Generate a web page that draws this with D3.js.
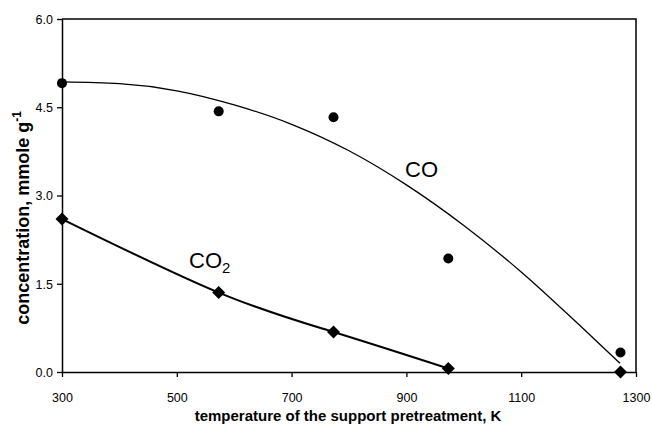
<!DOCTYPE html>
<html>
<head>
<meta charset="utf-8">
<script src="https://cdn.jsdelivr.net/npm/d3@7"></script>
<style>
  html, body { margin: 0; padding: 0; background: #fff; }
  svg { display: block; font-family: Arial, "Liberation Sans", sans-serif; }
</style>
</head>
<body>
<svg id="chart" width="652" height="429"></svg>
<script>
// ---- data ----
const xTicks = [300, 500, 700, 900, 1100, 1300];
const yTicks = [0, 1.5, 3.0, 4.5, 6.0];
const temps = [300, 573, 773, 973, 1273];
const coValues = [4.91, 4.43, 4.33, 1.93, 0.33];
const co2Values = [2.60, 1.35, 0.68, 0.06, 0.00];
// CO trend curve
const coFitTemps = [300, 400, 500, 600, 700, 800, 900, 1000, 1100, 1200, 1272];
const coFitValues = [4.93, 4.90, 4.78, 4.54, 4.21, 3.76, 3.18, 2.49, 1.70, 0.81, 0.15];
// CO2 smoothed line passes through the first four points
const co2LineCount = 4;

const svg = d3.select("#chart");
const x = d3.scaleLinear().domain([300, 1300]).range([62, 636]);
const y = d3.scaleLinear().domain([0, 6]).range([372, 19]);

// frame (top and right)
svg.append("path")
  .attr("d", `M${x(300)},${y(6)}H${x(1300)}V${y(0)}`)
  .attr("fill", "none").attr("stroke", "#000").attr("stroke-width", 1.5);

// axes
const xAxis = svg.append("g").attr("transform", `translate(0,${y(0)})`)
  .call(d3.axisBottom(x).tickValues(xTicks).tickSize(5).tickSizeOuter(0).tickFormat(d3.format("d")));
const yAxis = svg.append("g").attr("transform", `translate(${x(300)},0)`)
  .call(d3.axisLeft(y).tickValues(yTicks).tickSize(5).tickSizeOuter(0).tickFormat(d3.format(".1f")));
[xAxis, yAxis].forEach(g => {
  g.select(".domain").attr("stroke", "#000").attr("stroke-width", 1.5);
  g.selectAll(".tick line").attr("stroke", "#000").attr("stroke-width", 1.3);
  g.selectAll(".tick text").attr("fill", "#000")
    .style("font-family", "Arial, 'Liberation Sans', sans-serif").style("font-size", "12.5px");
});
xAxis.selectAll(".tick text").attr("dy", null).attr("y", 30);
yAxis.selectAll(".tick text").attr("x", -9).attr("dy", "0.35em");

// axis titles
svg.append("text")
  .attr("x", 348).attr("y", 421).attr("text-anchor", "middle")
  .style("font-size", "15px").style("font-weight", "bold")
  .text("temperature of the support pretreatment, K");

const yt = svg.append("text")
  .attr("transform", "translate(29,218) rotate(-90)")
  .attr("text-anchor", "middle")
  .style("font-size", "18px").style("font-weight", "bold");
yt.append("tspan").text("concentration, mmole g");
yt.append("tspan").attr("dy", -8).style("font-size", "12px").text("-1");

// CO trend curve
const coFit = coFitTemps.map((t, i) => [t, coFitValues[i]]);
svg.append("path")
  .datum(coFit)
  .attr("fill", "none").attr("stroke", "#000").attr("stroke-width", 1.3)
  .attr("d", d3.line().x(d => x(d[0])).y(d => y(d[1])).curve(d3.curveMonotoneX));

// CO2 line
const co2Pts = temps.map((t, i) => [t, co2Values[i]]);
svg.append("path")
  .datum(co2Pts.slice(0, co2LineCount))
  .attr("fill", "none").attr("stroke", "#000").attr("stroke-width", 2)
  .attr("d", d3.line().x(d => x(d[0])).y(d => y(d[1])).curve(d3.curveNatural));

// CO markers (circles)
svg.append("g").selectAll("circle")
  .data(temps.map((t, i) => [t, coValues[i]]))
  .join("circle")
  .attr("cx", d => x(d[0])).attr("cy", d => y(d[1])).attr("r", 5).attr("fill", "#000");

// CO2 markers (diamonds)
const dr = 6.5;
svg.append("g").selectAll("path")
  .data(co2Pts)
  .join("path")
  .attr("transform", d => `translate(${x(d[0])},${y(d[1])})`)
  .attr("d", `M0,${-dr}L${dr},0L0,${dr}L${-dr},0Z`)
  .attr("fill", "#000");

// series labels
svg.append("text").attr("x", 405).attr("y", 177)
  .style("font-size", "22px").text("CO");
const c2 = svg.append("text").attr("x", 189).attr("y", 268).style("font-size", "22px");
c2.append("tspan").text("CO");
c2.append("tspan").attr("dy", 5).style("font-size", "15px").text("2");
</script>
</body>
</html>
